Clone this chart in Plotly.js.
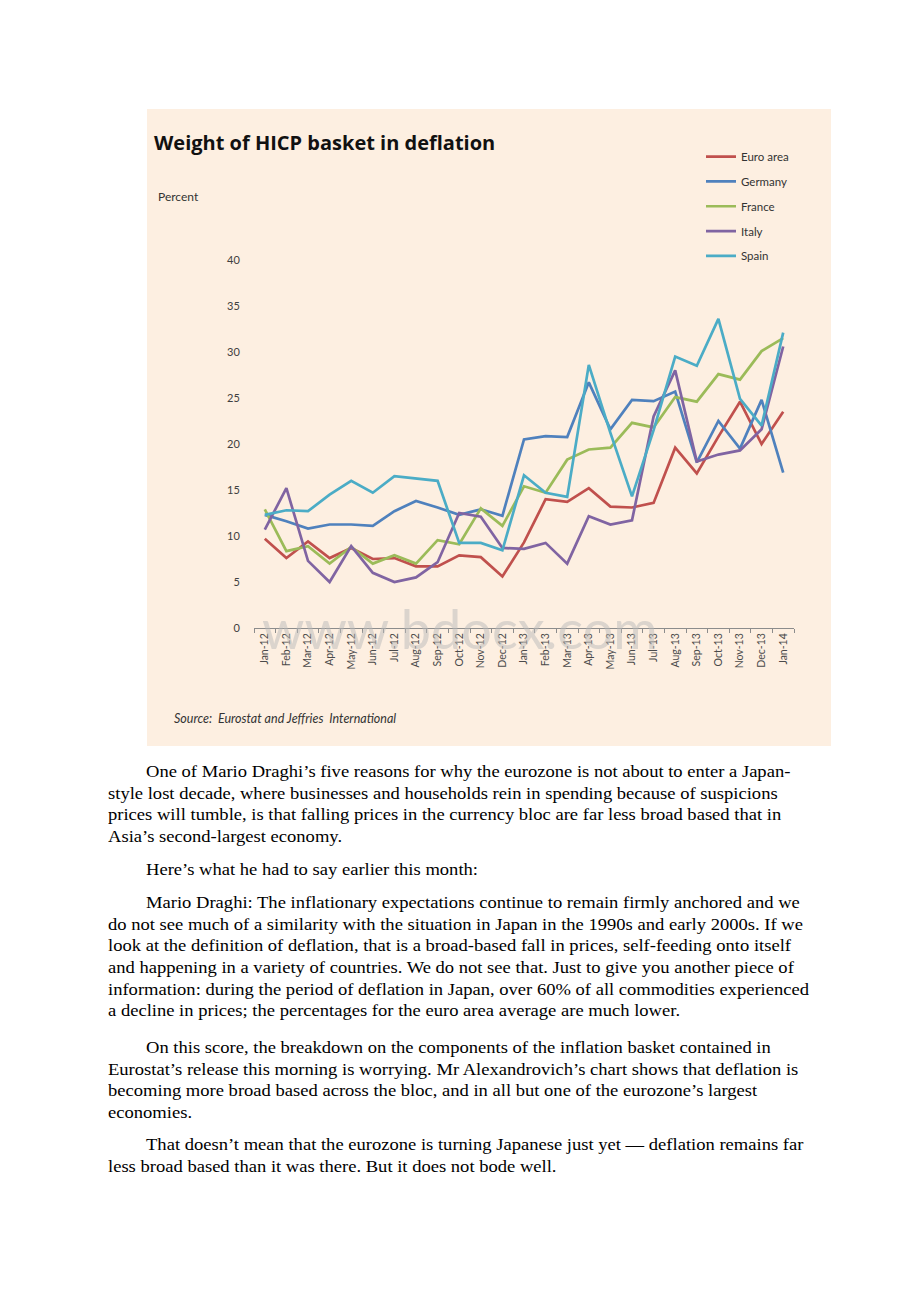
<!DOCTYPE html>
<html>
<head>
<meta charset="utf-8">
<script src="https://cdn.plot.ly/plotly-3.0.1.min.js"></script>
<style>
  html, body { margin: 0; padding: 0; background: #ffffff; width: 920px; height: 1302px; overflow: hidden; }
  #chart { position: absolute; left: 147px; top: 109px; width: 684px; height: 637px; }
  .para { position: absolute; left: 108px; margin: 0; white-space: nowrap;
          font-family: "Liberation Serif", "Times New Roman", serif; font-size: 16.5px; color: #000;
          line-height: 21.67px; transform: scaleX(1.125); transform-origin: 0 0; }
  .ind { padding-left: 33.8px; }
</style>
</head>
<body>
<div id="chart"></div>
<p class="para" style="top:761px"><span class="ind"></span>One of Mario Draghi’s five reasons for why the eurozone is not about to enter a Japan-<br>style lost decade, where businesses and households rein in spending because of suspicions<br>prices will tumble, is that falling prices in the currency bloc are far less broad based that in<br>Asia’s second-largest economy.</p>
<p class="para" style="top:859px"><span class="ind"></span>Here’s what he had to say earlier this month:</p>
<p class="para" style="top:892px"><span class="ind"></span>Mario Draghi: The inflationary expectations continue to remain firmly anchored and we<br>do not see much of a similarity with the situation in Japan in the 1990s and early 2000s. If we<br>look at the definition of deflation, that is a broad-based fall in prices, self-feeding onto itself<br>and happening in a variety of countries. We do not see that. Just to give you another piece of<br>information: during the period of deflation in Japan, over 60% of all commodities experienced<br>a decline in prices; the percentages for the euro area average are much lower.</p>
<p class="para" style="top:1037px"><span class="ind"></span>On this score, the breakdown on the components of the inflation basket contained in<br>Eurostat’s release this morning is worrying. Mr Alexandrovich’s chart shows that deflation is<br>becoming more broad based across the bloc, and in all but one of the eurozone’s largest<br>economies.</p>
<p class="para" style="top:1134px"><span class="ind"></span>That doesn’t mean that the eurozone is turning Japanese just yet — deflation remains far<br>less broad based than it was there. But it does not bode well.</p>
<script>
const months = ["Jan-12","Feb-12","Mar-12","Apr-12","May-12","Jun-12","Jul-12","Aug-12","Sep-12","Oct-12","Nov-12","Dec-12",
                "Jan-13","Feb-13","Mar-13","Apr-13","May-13","Jun-13","Jul-13","Aug-13","Sep-13","Oct-13","Nov-13","Dec-13","Jan-14"];
const euroArea = [9.7, 7.6, 9.4, 7.6, 8.7, 7.5, 7.6, 6.7, 6.7, 7.9, 7.7, 5.6, 9.3, 14.0, 13.7, 15.2, 13.2, 13.1, 13.6, 19.6, 16.8, 20.8, 24.6, 20.0, 23.5];
const germany  = [12.3, 11.6, 10.8, 11.25, 11.25, 11.1, 12.7, 13.8, 13.1, 12.3, 12.9, 12.2, 20.5, 20.85, 20.75, 26.7, 21.6, 24.8, 24.65, 25.7, 18.0, 22.5, 19.5, 24.8, 16.9];
const france   = [12.9, 8.35, 8.9, 7.0, 8.8, 7.0, 7.9, 7.0, 9.55, 9.1, 13.0, 11.1, 15.4, 14.7, 18.3, 19.4, 19.6, 22.3, 21.8, 25.1, 24.6, 27.6, 27.0, 30.1, 31.5];
const italy    = [10.7, 15.2, 7.3, 5.0, 8.9, 6.0, 5.0, 5.5, 7.15, 12.5, 12.1, 8.7, 8.6, 9.25, 7.0, 12.15, 11.25, 11.7, 23.0, 28.0, 18.1, 18.85, 19.3, 21.6, 30.6];
const spain    = [12.3, 12.8, 12.7, 14.5, 16.0, 14.7, 16.5, 16.25, 16.0, 9.25, 9.25, 8.45, 16.6, 14.7, 14.25, 28.6, 21.2, 14.3, 21.5, 29.5, 28.5, 33.6, 24.9, 22.0, 32.1];

const seriesNames = ["Euro area", "Germany", "France", "Italy", "Spain"];
const seriesData = [euroArea, germany, france, italy, spain];
const colors = ["#C0504D", "#4F81BD", "#9BBB59", "#8064A2", "#4BACC6"];

const W = 684, H = 637;
const M = {l: 107, r: 37, t: 151, b: 117.5};
const PW = W - M.l - M.r, PH = H - M.t - M.b;
const px = x => (x - M.l) / PW;
const py = y => (H - M.b - y) / PH;

const traces = seriesNames.map((n, i) => ({
  type: "scatter", mode: "lines", name: n, x: months, y: seriesData[i],
  line: {color: colors[i], width: 2.7}, legendgroup: "g" + i, hoverinfo: "skip"
}));

const bg = "#FDEFE1";
const layout = {
  width: W, height: H,
  margin: M,
  paper_bgcolor: bg, plot_bgcolor: bg,
  font: {family: "Lato, 'Open Sans', sans-serif", color: "#404040", size: 11},
  showlegend: true,
  legend: {x: px(554), y: py(33), xanchor: "left", yanchor: "top", orientation: "v",
           font: {size: 11.5, color: "#333333"}, tracegroupgap: 5.8, bgcolor: "rgba(0,0,0,0)"},
  xaxis: {type: "category", categoryorder: "array", categoryarray: months,
          range: [-0.5, months.length - 0.5], tickangle: -90,
          showline: true, linecolor: "#8C8C8C", linewidth: 1,
          ticks: "outside", ticklen: 4, tickcolor: "#8C8C8C", tickson: "boundaries",
          showgrid: false, zeroline: false, tickfont: {size: 10.5, color: "#4a4a4a"}, fixedrange: true},
  yaxis: {range: [0, 40], dtick: 5, tick0: 0, showgrid: false, zeroline: false, showline: false,
          ticks: "outside", ticklen: 11, tickcolor: "rgba(0,0,0,0)",
          tickfont: {size: 11, color: "#404040"}, fixedrange: true},
  title: {text: "<b>Weight of HICP basket in deflation</b>", x: 7 / W, xanchor: "left",
          y: 1 - 34 / H, yanchor: "middle", font: {size: 20, color: "#111111", family: "'Open Sans', sans-serif"}},
  annotations: [
    {text: "Percent", xref: "paper", yref: "paper", x: px(9), y: py(87), xanchor: "left", yanchor: "middle",
     showarrow: false, font: {size: 12, color: "#333333"}},
    {text: "<i>Source:  Eurostat and Jeffries  International</i>", xref: "paper", yref: "paper",
     x: px(25), y: py(610), xanchor: "left", yanchor: "middle", showarrow: false,
     font: {size: 12.5, color: "#333333"}},
    {text: "www.bdocx.com", xref: "paper", yref: "paper", x: px(313), y: py(520), xanchor: "center",
     yanchor: "middle", showarrow: false, font: {size: 54, color: "rgba(185,185,185,0.5)", family: "Lato, sans-serif"}}
  ]
};

Plotly.newPlot("chart", traces, layout, {displayModeBar: false, staticPlot: true});
</script>
</body>
</html>
